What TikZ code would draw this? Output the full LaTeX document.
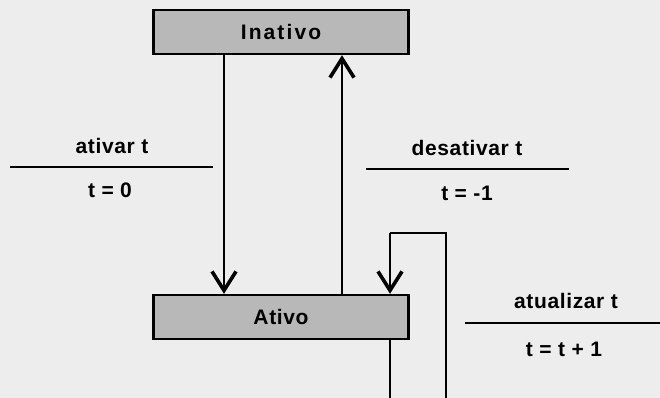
\documentclass[tikz,border=0pt]{standalone}
\usepackage{fontspec}
\setmainfont{Liberation Sans}
\newfontfamily\labelfont[LetterSpace=3]{Liberation Sans}
\newfontfamily\widefont[LetterSpace=10]{Liberation Sans}
\usetikzlibrary{arrows.meta}
\begin{document}
\begin{tikzpicture}[x=1pt,y=-1pt,
  state/.style={draw=black, line width=2.4pt, fill=black!28, minimum width=255pt,
    minimum height=44pt, inner sep=0pt},
  wire/.style={line width=2pt},
  arr/.style={wire, -{Straight Barb[length=19pt,width=24pt,line width=3.6pt]}},
  txt/.style={font=\labelfont\bfseries\fontsize{21}{24}\selectfont},
  lbl/.style={txt, inner sep=0pt},
  bar/.style={line width=1.8pt}]
  % page and stippled background tone
  \useasboundingbox (0,0) rectangle (660,398);
  \fill[black!7] (0,0) rectangle (660,398);

  % states
  \node[state, font=\widefont\bfseries\fontsize{21}{24}\selectfont] (inativo) at (281,32) {Inativo};
  \node[state, txt] (ativo) at (281,317) {Ativo};

  % transitions between the states
  \draw[arr] (inativo.south -| 224,0) -- (ativo.north -| 224,0);
  \draw[arr] (ativo.north -| 342,0) -- (inativo.south -| 342,0);

  % self loop on Ativo (continues past the lower edge)
  \coordinate (loopA) at (390,398);
  \coordinate (loopB) at (446,398);
  \coordinate (loopC) at (446,233);
  \coordinate (loopD) at (390,233);
  \draw[wire] (ativo.south -| loopA) -- (loopA);
  \draw[wire] (loopB) -- (loopC) -- (loopD);
  \draw[arr] (loopD) -- (ativo.north -| loopD);

  % event / action labels
  \node[lbl] (evA) at (112,146) {ativar t};
  \coordinate (barA1) at (10,167);
  \coordinate (barA2) at (213,167);
  \draw[bar] (barA1) -- (barA2);
  \node[lbl] (acA) at (110,190) {t = 0};

  \node[lbl] (evB) at (467,148) {desativar t};
  \coordinate (barB1) at (366,169);
  \coordinate (barB2) at (569,169);
  \draw[bar] (barB1) -- (barB2);
  \node[lbl] (acB) at (467,193) {t = -1};

  \node[lbl] (evC) at (566,301) {atualizar t};
  \coordinate (barC1) at (465,323);
  \coordinate (barC2) at (660,323);
  \draw[bar] (barC1) -- (barC2);
  \node[lbl] (acC) at (564,349) {t = t + 1};
\end{tikzpicture}
\end{document}
